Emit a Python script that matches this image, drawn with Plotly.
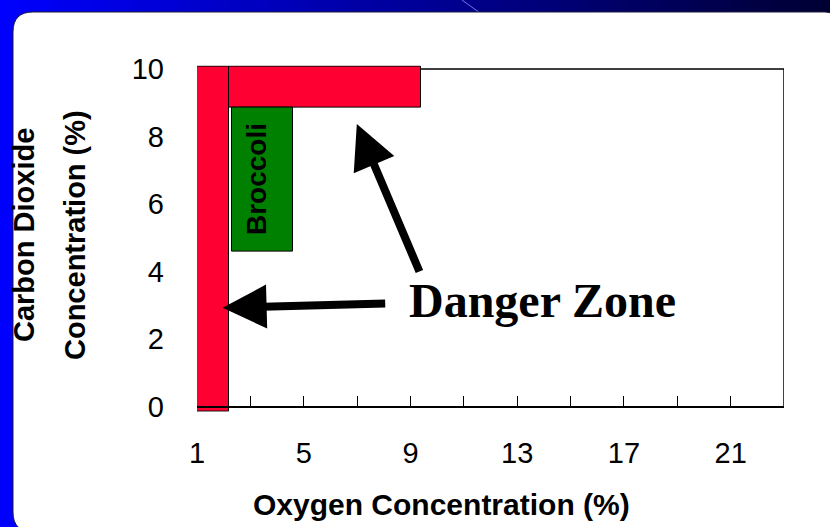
import plotly.graph_objects as go

W, H = 830, 527

# ---------------- data ----------------
zone_labels = ["Low O2 danger", "High CO2 danger", "Broccoli"]
o2_start = [1.0, 2.2, 2.3]
o2_end = [2.2, 9.38, 4.59]
co2_start = [-0.13, 8.87, 4.6]
co2_end = [10.06, 10.06, 8.87]
zone_colors = ["#FF0033", "#FF0033", "#008000"]

x_tick_vals = [1, 5, 9, 13, 17, 21]
x_tick_text = ["1", "5", "9", "13", "17", "21"]
x_minor_vals = [3, 7, 11, 15, 19]
y_tick_vals = [0, 2, 4, 6, 8, 10]
x_range = [1, 23]
y_range = [-0.15, 10.1]

arrow_tips = [(1.96, 2.93), (6.99, 8.37)]
arrow_tails = [(8.11, 3.06), (9.36, 3.96)]

# ---------------- helpers (layout only) ----------------
def px(x):
    return x / W

def py(y):
    return 1 - y / H

centers = [(a + b) / 2 for a, b in zip(o2_start, o2_end)]
widths = [b - a for a, b in zip(o2_start, o2_end)]
heights = [b - a for a, b in zip(co2_start, co2_end)]

fig = go.Figure()
fig.add_trace(go.Bar(
    x=centers, y=heights, base=co2_start, width=widths,
    marker=dict(color=zone_colors, line=dict(color="black", width=1)),
    text=zone_labels, textposition="none",
    showlegend=False, hoverinfo="skip",
))

shapes = []
# background gradient
step = 10
for i in range(0, W, step):
    t = (i + step / 2) / W
    b = int(round(255 - (255 - 50) * t))
    shapes.append(dict(type="rect", xref="paper", yref="paper",
                       x0=px(i), x1=px(min(i + step + 1, W)), y0=0, y1=1,
                       fillcolor=f"rgb(0,0,{b})", line=dict(width=0), layer="below"))
# faint diagonal highlight line
shapes.append(dict(type="line", xref="paper", yref="paper",
                   x0=px(462), y0=py(0), x1=px(480), y1=py(13),
                   line=dict(color="rgba(140,170,255,0.75)", width=1), layer="below"))
# white rounded panel
L, T, R, B, r = 13, 12, 845, 532, 20
def P(x, y):
    return f"{px(x):.5f},{py(y):.5f}"
path = (f"M{P(L + r, T)} L{P(R - r, T)} Q{P(R, T)} {P(R, T + r)} L{P(R, B - r)} "
        f"Q{P(R, B)} {P(R - r, B)} L{P(L + r, B)} Q{P(L, B)} {P(L, B - r)} "
        f"L{P(L, T + r)} Q{P(L, T)} {P(L + r, T)} Z")
shapes.append(dict(type="path", xref="paper", yref="paper", path=path,
                   fillcolor="white", line=dict(color="#1a1a3a", width=1), layer="below"))
# plot frame
shapes.append(dict(type="rect", xref="x", yref="y", x0=x_range[0], x1=x_range[1],
                   y0=0, y1=10, line=dict(color="black", width=1.5),
                   fillcolor="rgba(0,0,0,0)", layer="below"))

annotations = []
for (tx, ty), (sx, sy) in zip(arrow_tips, arrow_tails):
    annotations.append(dict(x=tx, y=ty, xref="x", yref="y", ax=sx, ay=sy,
                            axref="x", ayref="y", text="", showarrow=True,
                            arrowhead=2, arrowsize=1.1, arrowwidth=8,
                            arrowcolor="black", standoff=0))

annotations.append(dict(text="Danger Zone", x=px(542), y=py(300), xref="paper", yref="paper",
                        showarrow=False, xanchor="center", yanchor="middle",
                        font=dict(family="Liberation Serif", size=48, color="black", weight="bold")))
annotations.append(dict(text="Broccoli", x=px(257), y=py(179), xref="paper", yref="paper",
                        showarrow=False, textangle=-90, xanchor="center", yanchor="middle",
                        font=dict(family="Liberation Sans", size=28, color="black", weight="bold")))
annotations.append(dict(text="Oxygen Concentration (%)", x=px(441), y=py(504),
                        xref="paper", yref="paper", showarrow=False,
                        xanchor="center", yanchor="middle",
                        font=dict(family="Liberation Sans", size=30, color="black", weight="bold")))
annotations.append(dict(text="Carbon Dioxide", x=px(24), y=py(235),
                        xref="paper", yref="paper", showarrow=False, textangle=-90,
                        xanchor="center", yanchor="middle",
                        font=dict(family="Liberation Sans", size=29, color="black", weight="bold")))
annotations.append(dict(text="Concentration (%)", x=px(75), y=py(235),
                        xref="paper", yref="paper", showarrow=False, textangle=-90,
                        xanchor="center", yanchor="middle",
                        font=dict(family="Liberation Sans", size=29, color="black", weight="bold")))

fig.update_layout(
    width=W, height=H, autosize=False,
    margin=dict(l=0, r=0, t=0, b=0, pad=0, autoexpand=False),
    paper_bgcolor="#0000C0", plot_bgcolor="rgba(0,0,0,0)",
    shapes=shapes, annotations=annotations,
    bargap=0,
    xaxis=dict(domain=[px(197), px(784)], range=x_range,
               tickvals=x_tick_vals, ticktext=x_tick_text,
               ticks="inside", ticklen=10, tickwidth=1, tickcolor="black",
               minor=dict(tickvals=x_minor_vals, ticks="inside", ticklen=10,
                          tickwidth=1, tickcolor="black"),
               showline=True, linecolor="black", linewidth=2,
               showgrid=False, zeroline=False, automargin=False,
               anchor="free", position=py(406.7),
               ticklabelstandoff=20,
               tickfont=dict(family="Liberation Sans", size=29, color="black")),
    yaxis=dict(domain=[py(411.8), py(65.6)], range=y_range,
               tickvals=y_tick_vals, ticks="", showline=False,
               showgrid=False, zeroline=False, automargin=False,
               ticklabelstandoff=32,
               tickfont=dict(family="Liberation Sans", size=29, color="black")),
)

fig.write_html(
    "out.html",
    config={"responsive": False, "displayModeBar": False},
    post_script="document.body.style.margin='0';document.body.style.overflow='hidden';",
)
